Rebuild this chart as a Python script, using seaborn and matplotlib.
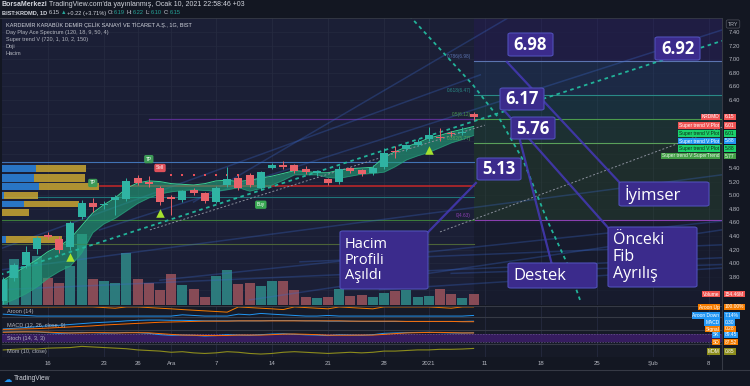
import numpy as np
import seaborn as sns
import matplotlib.pyplot as plt
from matplotlib.patches import FancyBboxPatch

plt.rcParams['font.family'] = ['Liberation Sans', 'DejaVu Sans']

W, H = 750, 386
BG = '#131722'
PANE = '#1b1f36'
SUB = '#161a27'
GRID = '#252a40'
TXT = '#b2b5be'
HDR = '#d1d4dc'
UP = '#2fb3a3'
DOWN = '#e8626a'

# ---- daily bars, bar 0 = 10 Nov 2020 ... bar 42 = 8 Jan 2021 ----
opens = [3.45, 3.78, 3.97, 4.21, 4.42, 4.36, 4.24, 4.68, 4.88, 4.85, 4.93, 4.94, 5.26, 5.19, 5.11,
         4.97, 4.93, 5.08, 5.03, 4.90, 5.15, 5.26, 5.30, 5.11, 5.40, 5.44, 5.44, 5.38, 5.32, 5.24,
         5.19, 5.40, 5.37, 5.33, 5.41, 5.65, 5.68, 5.74, 5.83, 5.86, 5.92, 5.92, 6.19]
highs = [3.80, 4.00, 4.25, 4.40, 4.46, 4.40, 4.62, 4.93, 4.96, 4.92, 5.00, 5.26, 5.30, 5.28, 5.14,
         5.00, 5.08, 5.10, 5.05, 5.13, 5.41, 5.30, 5.33, 5.36, 5.47, 5.50, 5.46, 5.43, 5.37, 5.26,
         5.43, 5.42, 5.39, 5.44, 5.70, 5.72, 5.76, 5.82, 6.00, 5.99, 5.95, 6.00, 6.22]
lows = [3.40, 3.74, 3.93, 4.14, 4.36, 4.15, 4.20, 4.65, 4.76, 4.80, 4.71, 4.92, 5.15, 5.12, 4.86,
        4.71, 4.90, 5.00, 4.88, 4.88, 5.12, 5.08, 5.12, 5.08, 5.38, 5.39, 5.33, 5.31, 5.28, 5.15,
        5.17, 5.33, 5.28, 5.30, 5.38, 5.55, 5.65, 5.72, 5.80, 5.80, 5.86, 5.88, 6.10]
closes = [3.75, 3.97, 4.16, 4.37, 4.38, 4.19, 4.59, 4.89, 4.83, 4.86, 4.97, 5.21, 5.18, 5.16, 4.90,
          4.94, 5.06, 5.03, 4.91, 5.11, 5.24, 5.11, 5.15, 5.34, 5.44, 5.42, 5.36, 5.34, 5.35, 5.18,
          5.39, 5.36, 5.31, 5.40, 5.62, 5.64, 5.74, 5.78, 5.89, 5.84, 5.90, 5.93, 6.15]
volumes_m = [364, 644, 546, 686, 378, 308, 546, 994, 364, 336, 308, 728, 364, 308, 210,
             434, 280, 224, 112, 406, 490, 294, 308, 266, 336, 336, 210, 112, 98, 112,
             224, 126, 140, 112, 168, 196, 210, 112, 126, 224, 154, 98, 154]

# Super trend V band and stop dots
band_upper = [3.75, 3.85, 3.95, 4.05, 4.17, 4.25, 4.36, 4.55, 4.74, 4.86, 4.96, 5.10, 5.18, 5.21, 5.20,
              5.17, 5.16, 5.15, 5.17, 5.21, 5.22, 5.20, 5.22, 5.25, 5.28, 5.32, 5.36, 5.35, 5.33, 5.33,
              5.37, 5.39, 5.40, 5.41, 5.56, 5.64, 5.71, 5.77, 5.84, 5.88, 5.93, 5.97, 6.01]
band_lower = [3.40, 3.47, 3.55, 3.65, 3.78, 3.88, 3.96, 4.15, 4.45, 4.58, 4.66, 4.77, 4.88, 4.96, 5.02,
              5.05, 5.07, 5.08, 5.07, 5.06, 5.08, 5.11, 5.06, 5.10, 5.15, 5.22, 5.30, 5.30, 5.30, 5.26,
              5.25, 5.28, 5.31, 5.32, 5.34, 5.42, 5.52, 5.58, 5.63, 5.70, 5.77, 5.82, 5.88]
supertrend = [3.35, 3.45, 3.55, 3.68, 3.80, 3.88, 3.97, 4.15, 4.35, 4.53, 4.61, 4.68, 4.81, 4.90, 4.98,
              5.30, 5.30, 5.30, 5.30, 5.30, 5.30, 5.30, 5.00, 5.04, 5.08, 5.10, 5.12, 5.13, 5.15, 5.16,
              5.16, 5.16, 5.16, 5.16, 5.19, 5.25, 5.33, 5.41, 5.50, 5.58, 5.68, 5.74, 5.78]
supertrend_up = [True] * 15 + [False] * 7 + [True] * 21

# lower panes
aroon_up = [100, 100, 100, 100, 100, 100, 100, 100, 100, 93, 86, 100, 100, 93, 86, 79, 71, 64, 57, 50, 43,
            100, 93, 86, 79, 71, 100, 93, 86, 79, 100, 93, 86, 79, 100, 100, 100, 100, 100, 93, 86, 100, 100]
aroon_down = [21, 14, 7, 0, 0, 0, 0, 0, 0, 0, 0, 0, 0, 0, 0, 0, 14, 7, 0, 0, 0, 21, 14, 29, 21, 14, 7, 0,
              0, 7, 0, 0, 0, 0, 0, 0, 0, 0, 0, 0, 0, 0, 7]
macd = [0.02, 0.04, 0.07, 0.10, 0.13, 0.15, 0.18, 0.21, 0.24, 0.26, 0.28, 0.31, 0.33, 0.34, 0.34, 0.33,
        0.33, 0.32, 0.31, 0.31, 0.31, 0.31, 0.31, 0.31, 0.32, 0.32, 0.32, 0.31, 0.31, 0.30, 0.30, 0.30,
        0.29, 0.29, 0.29, 0.29, 0.29, 0.29, 0.29, 0.29, 0.29, 0.29, 0.30]
macd_signal = [0.00, 0.01, 0.02, 0.03, 0.05, 0.07, 0.09, 0.11, 0.13, 0.16, 0.18, 0.20, 0.22, 0.24, 0.26,
               0.27, 0.28, 0.29, 0.30, 0.30, 0.30, 0.31, 0.31, 0.31, 0.31, 0.31, 0.31, 0.31, 0.31, 0.31,
               0.31, 0.30, 0.30, 0.30, 0.30, 0.30, 0.29, 0.29, 0.29, 0.29, 0.29, 0.28, 0.28]
stoch_k = [95, 96, 97, 95, 90, 85, 88, 92, 90, 87, 88, 92, 90, 85, 75, 70, 72, 70, 65, 68, 75, 72, 70, 75,
           80, 82, 78, 74, 72, 68, 74, 72, 70, 75, 85, 88, 90, 92, 93, 90, 88, 87, 89]
stoch_d = [93, 95, 96, 96, 94, 90, 88, 88, 90, 90, 88, 89, 90, 89, 83, 77, 72, 71, 69, 68, 69, 72, 72, 72,
           75, 79, 80, 78, 75, 71, 71, 71, 72, 72, 77, 83, 88, 90, 92, 92, 90, 88, 88]
mom = [0.60, 0.70, 0.80, 0.75, 0.90, 0.95, 1.00, 1.20, 1.10, 1.00, 0.90, 0.80, 0.60, 0.50, 0.40, 0.20,
       0.30, 0.10, 0.00, 0.10, 0.30, 0.20, 0.00, -0.10, 0.00, 0.20, 0.30, 0.20, 0.10, 0.00, 0.10, 0.20,
       0.10, 0.20, 0.40, 0.40, 0.50, 0.60, 0.60, 0.70, 0.70, 0.75, 0.85]

# visible volume profile rows (left edge)
vp_lo = [5.34, 5.20, 5.07, 4.94, 4.82, 4.70, 4.30]
vp_hi = [5.46, 5.33, 5.19, 5.06, 4.93, 4.81, 4.41]
vp_buy = [3.0, 2.9, 3.3, 0.2, 2.0, 0.0, 0.35]
vp_sell = [4.5, 4.5, 5.4, 3.0, 4.9, 2.4, 5.0]

# horizontal levels
level_price = [5.49, 5.13, 4.98, 4.64, 4.28]
level_start = [-0.2, 8.6, -0.2, -0.2, -0.2]
level_color = ['#4173b5', '#c62828', '#1f7479', '#3c7a3c', '#4c6338']
fib_ratio = ['0.786', '0.618', '0.5', '0.382', '0']
fib_price = [6.98, 6.47, 6.12, 5.77, 4.63]
fib_color = ['#5b74b0', '#2a8a86', '#4c9a4c', '#5aa05a', '#8a3fb0']
fib_top = 7.61

# drawn trend lines (bar index, price)
trend_x = [-0.29, 64.18]
trend_y = [3.83, 7.27]
curve_x = [35.4, 36.6, 41.95, 44.36, 46.41, 48.55, 50.34, 51.5]
curve_y = [7.80, 7.58, 6.62, 6.11, 5.52, 4.64, 4.00, 3.46]
grey1_x = [13.1, 43.0]
grey1_y = [4.49, 6.03]
grey2_x = [39.0, 64.18]
grey2_y = [4.46, 6.00]
rays = [([-0.29, 42.6], [4.21, 6.77]), ([8.6, 64.18], [4.49, 7.43]), ([-0.29, 64.18], [3.90, 5.30]),
        ([22.0, 64.18], [3.46, 4.49]), ([-0.29, 64.18], [3.61, 4.08]), ([26.5, 64.18], [4.02, 4.27]),
        ([33.6, 64.18], [3.61, 3.93]), ([14.0, 64.18], [3.75, 4.62]), ([40.0, 64.18], [3.85, 3.98]),
        ([17.0, 45.0], [4.90, 7.60])]

# signals
sig_text = ['TP', 'Sell', 'TP', 'Buy']
sig_idx = [13.0, 14.0, 8.0, 23.0]
sig_price = [5.53, 5.40, 5.18, 4.86]
sig_color = ['#3d9a57', '#e0505a', '#3d9a57', '#38a852']
tri_idx = [6, 14, 38]
tri_price = [4.09, 4.74, 5.66]

date_ticks = [4, 9, 12, 15, 19, 24, 29, 34, 38, 43, 48, 53, 58, 63]
date_labels = ['16', '23', '26', 'Ara', '7', '14', '21', '28', '2021', '11', '18', '25', 'Şub', '8']
price_ticks = [3.80, 4.00, 4.20, 4.40, 4.60, 4.80, 5.00, 5.20, 5.40, 6.40, 6.60, 6.80, 7.00, 7.20, 7.40]


def rect(x0, y0, x1, y1):
    return [x0 / W, 1 - y1 / H, (x1 - x0) / W, (y1 - y0) / H]


def fpos(px, py):
    return px / W, 1 - py / H


fig = plt.figure(figsize=(W / 100, H / 100), dpi=100, facecolor=BG)

ax_v = fig.add_axes(rect(2, 18, 722, 305), facecolor=PANE)
ax = fig.add_axes(rect(2, 18, 722, 305), facecolor='none', sharex=ax_v)
ax_ar = fig.add_axes(rect(2, 306, 722, 317), facecolor=SUB, sharex=ax_v)
ax_md = fig.add_axes(rect(2, 317, 722, 330), facecolor=SUB, sharex=ax_v)
ax_st = fig.add_axes(rect(2, 330, 722, 344), facecolor=SUB, sharex=ax_v)
ax_mo = fig.add_axes(rect(2, 344, 722, 357), facecolor=SUB, sharex=ax_v)

idx = np.arange(len(opens))
o, hi, lo, c = (np.array(a) for a in (opens, highs, lows, closes))
x_end = 64.18
last_x = 42.05

for a in (ax_v, ax, ax_ar, ax_md, ax_st, ax_mo):
    a.set_xlim(-0.107, x_end)
    for s in a.spines.values():
        s.set_visible(False)
    a.tick_params(length=0, labelbottom=False, labelleft=False, labelright=False)
    a.set_xticks(date_ticks)
    a.set_yticks([])
for a in (ax_v, ax_ar, ax_md, ax_st, ax_mo):
    a.grid(axis='x', color=GRID, lw=0.6)
    a.set_axisbelow(True)
for a in (ax_ar, ax_md, ax_st, ax_mo):
    a.spines['top'].set_visible(True)
    a.spines['top'].set_color('#363a45')
    a.spines['top'].set_linewidth(0.8)

# volume
ax_v.set_ylim(0, 287 * 14)
vcol = np.where(c >= o, '#2e8584', '#94505a')
ax_v.bar(idx, volumes_m, width=0.9, color=vcol, alpha=0.9, zorder=2)
ax_v.axvspan(last_x, x_end, color='#141927', alpha=0.55, lw=0, zorder=0.5)

# price pane (labels hidden behind the value tags are left out)
ax.set_ylim(3.385, 7.606)
ax.set_yticks(price_ticks)
ax.yaxis.tick_right()
ax.tick_params(axis='y', labelright=True, labelsize=4.2, colors=TXT, pad=5)
ax.set_yticklabels([f'{p:.2f}' for p in price_ticks])
for p in np.round(np.arange(3.6, 7.41, 0.2), 2):
    ax_v.axhline((p - 3.385) / 4.221 * 287 * 14, color=GRID, lw=0.5, zorder=0)

# right projection shading between fib levels
bounds = [fib_top] + fib_price
shade = ['#2c2166', '#24406a', '#1d4f55', '#24503c', '#2b4a2c']
for k in range(5):
    ax.fill_between([last_x, x_end], bounds[k + 1], bounds[k], color=shade[k], alpha=0.4, lw=0, zorder=1)
for p, col in zip(fib_price, fib_color):
    ax.plot([last_x, x_end], [p, p], color=col, lw=0.8, zorder=2)
for r, p, col in zip(fib_ratio, fib_price, fib_color):
    ax.text(last_x - 0.3, p + 0.03, f'{r}({p:.2f})', color=col, fontsize=3.4, ha='right', va='bottom', zorder=8)
ax.plot([13.0, last_x], [6.12, 6.12], color='#5a2f8f', lw=0.9, zorder=2)

# horizontal levels
for p, s0, col in zip(level_price, level_start, level_color):
    ax.plot([s0, last_x], [p, p], color=col, lw=1.1 if col == '#c62828' else 0.8, zorder=2)

# faint spectrum rays
for rx, ry in rays:
    ax.plot(rx, ry, color='#3a6ad0', lw=1.1, alpha=0.3, zorder=2)

# volume profile
vp_h = np.array(vp_hi) - np.array(vp_lo) - 0.015
ax.barh(vp_lo, vp_buy, height=vp_h, left=-0.107, align='edge', color='#2b7fd6', alpha=0.9, zorder=3)
ax.barh(vp_lo, vp_sell, height=vp_h, left=-0.107 + np.array(vp_buy), align='edge', color='#c9a632',
        alpha=0.85, zorder=3)

# super trend band
ax.fill_between(idx, band_lower, band_upper, color='#22a67c', alpha=0.6, lw=0, zorder=3)
sns.lineplot(x=idx, y=band_upper, ax=ax, color='#3bd394', lw=0.7, zorder=4)
sns.lineplot(x=idx, y=band_lower, ax=ax, color='#2a9e7c', lw=0.5, alpha=0.8, zorder=4)
st = np.array(supertrend)
mask = np.array(supertrend_up)
sns.scatterplot(x=idx[mask], y=st[mask], ax=ax, color='#3ecf6a', marker='P', s=2.5, linewidth=0, zorder=5)
sns.scatterplot(x=idx[~mask], y=st[~mask], ax=ax, color='#e8505a', marker='s', s=3, linewidth=0, zorder=5)

# trend lines
sns.lineplot(x=trend_x, y=trend_y, ax=ax, color='#22b39a', lw=1.3, linestyle=(0, (2, 2)), zorder=6)
ax.plot(curve_x, curve_y, color='#22b39a', lw=1.3, linestyle=(0, (2, 2)), zorder=6)
ax.plot(grey1_x, grey1_y, color='#8a8f9c', lw=0.7, linestyle=(0, (2, 2)), zorder=6)
ax.plot(grey2_x, grey2_y, color='#8a8f9c', lw=0.7, linestyle=(0, (2, 2)), zorder=6)

# candles
ccol = np.where(c >= o, UP, DOWN)
ax.vlines(idx, lo, hi, color=ccol, lw=0.7, zorder=7)
ax.bar(idx, np.maximum(np.abs(c - o), 0.015), bottom=np.minimum(o, c), width=0.72, color=ccol, zorder=8)

# signals
for t, x, y, col in zip(sig_text, sig_idx, sig_price, sig_color):
    ax.text(x, y, t, color='white', fontsize=3.4, ha='center', va='center', zorder=9,
            bbox=dict(boxstyle='round,pad=0.35', fc=col, ec='none'))
sns.scatterplot(x=tri_idx, y=tri_price, ax=ax, color='#a6e22e', marker='^', s=38, linewidth=0, zorder=9)

# pointer lines of the callouts
pointers = [((44.98, 6.96), (55.16, 5.165)), ((44.54, 6.28), (54.18, 4.49)),
            ((46.14, 5.81), (48.96, 4.00)), ((37.84, 4.44), (42.21, 5.18))]
for (x0, y0), (x1, y1) in pointers:
    ax.plot([x0, x1], [y0, y1], color='#4338b0', lw=1.6, alpha=0.9, zorder=10)

# callout boxes (pixel layout)
boxes = [('6.98', 508, 33, 553, 56, 12, 'center'), ('6.92', 655, 37, 700, 60, 12, 'center'),
         ('6.17', 500, 88, 544, 110, 12, 'center'), ('5.76', 511, 117, 555, 139, 12, 'center'),
         ('5.13', 477, 158, 521, 180, 12, 'center'),
         ('Hacim\nProfili\nAşıldı', 340, 231, 428, 289, 10.5, 'left'),
         ('Destek', 508, 263, 597, 288, 12, 'left'), ('İyimser', 619, 182, 709, 206, 12, 'left'),
         ('Önceki\nFib\nAyrılış', 608, 227, 697, 287, 11.5, 'left')]
for t, x0, y0, x1, y1, fs, ha in boxes:
    bx, by = fpos(x0, y1)
    fig.add_artist(FancyBboxPatch((bx, by), (x1 - x0) / W, (y1 - y0) / H, transform=fig.transFigure,
                                  boxstyle='round,pad=0,rounding_size=0.004', fc='#3b2b8c', ec='#5050b8',
                                  lw=0.8, zorder=20))
    if ha == 'center':
        tx, ty = fpos((x0 + x1) / 2, (y0 + y1) / 2 + 0.5)
        fig.text(tx, ty, t, color='white', fontsize=fs, fontweight='bold', ha='center', va='center',
                 family=['Open Sans', 'DejaVu Sans'], zorder=21)
    else:
        tx, ty = fpos(x0 + 5, (y0 + y1) / 2)
        fig.text(tx, ty, t, color='white', fontsize=fs, ha='left', va='center', linespacing=1.05,
                 family=['Open Sans', 'DejaVu Sans'], zorder=21)

# lower panes
ax_ar.set_ylim(-10, 110)
sns.lineplot(x=idx, y=aroon_up, ax=ax_ar, color='#f57c00', lw=0.7)
sns.lineplot(x=idx, y=aroon_down, ax=ax_ar, color='#2196f3', lw=0.7)
ax_md.set_ylim(-0.02, 0.45)
sns.lineplot(x=idx, y=macd, ax=ax_md, color='#2196f3', lw=0.7)
sns.lineplot(x=idx, y=macd_signal, ax=ax_md, color='#ff6d00', lw=0.7)
ax_st.set_ylim(5, 110)
ax_st.axhspan(20, 80, color='#3a1d66', alpha=0.9, lw=0)
for lvl in (20, 80):
    ax_st.axhline(lvl, color='#6b5a8c', lw=0.5, linestyle=(0, (2, 2)))
sns.lineplot(x=idx, y=stoch_k, ax=ax_st, color='#2196f3', lw=0.7)
sns.lineplot(x=idx, y=stoch_d, ax=ax_st, color='#ff6d00', lw=0.7)
ax_mo.set_ylim(-0.6, 1.6)
sns.lineplot(x=idx, y=mom, ax=ax_mo, color='#8c8c1c', lw=0.8)
for a in (ax, ax_ar, ax_md, ax_st, ax_mo):
    a.set_xlabel('')
    a.set_ylabel('')

ax_mo.tick_params(axis='x', labelbottom=True, labelsize=4.3, colors=TXT, pad=3)
ax_mo.set_xticklabels(date_labels)

# frame lines
fig.add_artist(plt.Line2D([722 / W, 722 / W], [1 - 370 / H, 1 - 18 / H], color='#363a45', lw=0.8))
fig.add_artist(plt.Line2D([0, 1], [1 - 370 / H, 1 - 370 / H], color='#363a45', lw=0.8))
fig.add_artist(plt.Line2D([0, 722 / W], [1 - 18 / H, 1 - 18 / H], color='#363a45', lw=0.6))

# overlay axes for texts placed one after another
axf = fig.add_axes([0, 0, 1, 1], facecolor='none')
axf.axis('off')


def chain(parts, px, py, fs):
    first, col, wt = parts[0]
    t = axf.text(px / W, 1 - py / H, first, color=col, fontsize=fs, fontweight=wt, va='center',
                 transform=axf.transAxes)
    for text, col, wt, gap in parts[1:]:
        t = axf.annotate(text, xy=(1, 0.5), xycoords=t, xytext=(gap, 0), textcoords='offset points',
                         va='center', ha='left', color=col, fontsize=fs, fontweight=wt)


GREEN = '#26a69a'
chain([('BorsaMerkezi', HDR, 'bold'),
       ("TradingView.com'da yayınlanmış, Ocak 10, 2021 22:58:46 +03", HDR, 'normal', 1.2)], 2, 5, 5.0)
chain([('BIST:KRDMD, 1D', HDR, 'bold'), ('6.15', HDR, 'normal', 1.2), ('▲', GREEN, 'normal', 0.5),
       ('+0.22 (+3.71%)', HDR, 'normal', 0.5), ('O:', HDR, 'normal', 1.2), ('6.19', GREEN, 'normal', 0.3),
       ('H:', HDR, 'normal', 1.2), ('6.22', GREEN, 'normal', 0.3), ('L:', HDR, 'normal', 1.2),
       ('6.10', GREEN, 'normal', 0.3), ('C:', HDR, 'normal', 1.2), ('6.15', GREEN, 'normal', 0.3)], 2, 13, 4.1)

legend = ['KARDEMİR KARABÜK DEMİR ÇELİK SANAYİ VE TİCARET A.Ş., 1G, BIST',
          'Day Play Ace Spectrum (120, 18, 9, 50, 4)', 'Super trend V (720, 1, 10, 2, 150)', 'Doji', 'Hacim']
for k, t in enumerate(legend):
    fig.text(*fpos(6, 25 + k * 7.2), t, color=HDR if k == 0 else TXT, fontsize=4.0, va='center')

for t, y in [('Aroon (14)', 312), ('MACD (12, 26, close, 9)', 325), ('Stoch (14, 3, 3)', 338.5),
             ('Mom (10, close)', 352)]:
    fig.text(*fpos(7, y), t, color=TXT, fontsize=4.0, va='center')

# right scale tags
fig.text(*fpos(733, 24), 'TRY', color=TXT, fontsize=3.8, ha='center', va='center',
         bbox=dict(boxstyle='round,pad=0.3', fc=BG, ec='#50535e', lw=0.5))
tags = [('KRDMD', '6.15', '#f05454', 'white', 117), ('Super trend V:Plot', '6.01', '#f05454', 'white', 125.5),
        ('Super trend V:Plot', '6.01', '#1bd16a', '#0d2a17', 133.5),
        ('Super trend V:Plot', '5.88', '#2196f3', 'white', 141),
        ('Super trend V:Plot', '5.88', '#1bd16a', '#0d2a17', 148.5),
        ('Super trend V:SuperTrend', '5.77', '#43a047', '#e8f5e9', 156),
        ('Volume', '154.46M', '#ef5350', 'white', 294), ('Aroon Up', '100.00%', '#f57c00', 'white', 307),
        ('Aroon Down', '7.14%', '#2196f3', 'white', 315.5), ('MACD', '0.30', '#2196f3', 'white', 322.5),
        ('Signal', '0.28', '#f57c00', 'white', 329), ('SK', '89.45', '#2196f3', 'white', 335),
        ('SD', '87.52', '#f57c00', 'white', 342), ('MOM', '0.85', '#8c8c1c', 'white', 351.5)]
for name, val, col, tcol, y in tags:
    fig.text(*fpos(719.5, y), name, color=tcol, fontsize=3.5, ha='right', va='center', zorder=30,
             bbox=dict(boxstyle='square,pad=0.2', fc=col, ec='none'))
    fig.text(*fpos(725, y), val, color=tcol, fontsize=3.5, ha='left', va='center', zorder=30,
             bbox=dict(boxstyle='square,pad=0.2', fc=col, ec='none'))

# footer
fig.text(*fpos(4, 379), '☁', color='#2196f3', fontsize=6, va='center', family=['DejaVu Sans'])
fig.text(*fpos(14, 379), 'TradingView', color=HDR, fontsize=4.8, va='center')

fig.savefig('out.png', dpi=100, facecolor=BG)
